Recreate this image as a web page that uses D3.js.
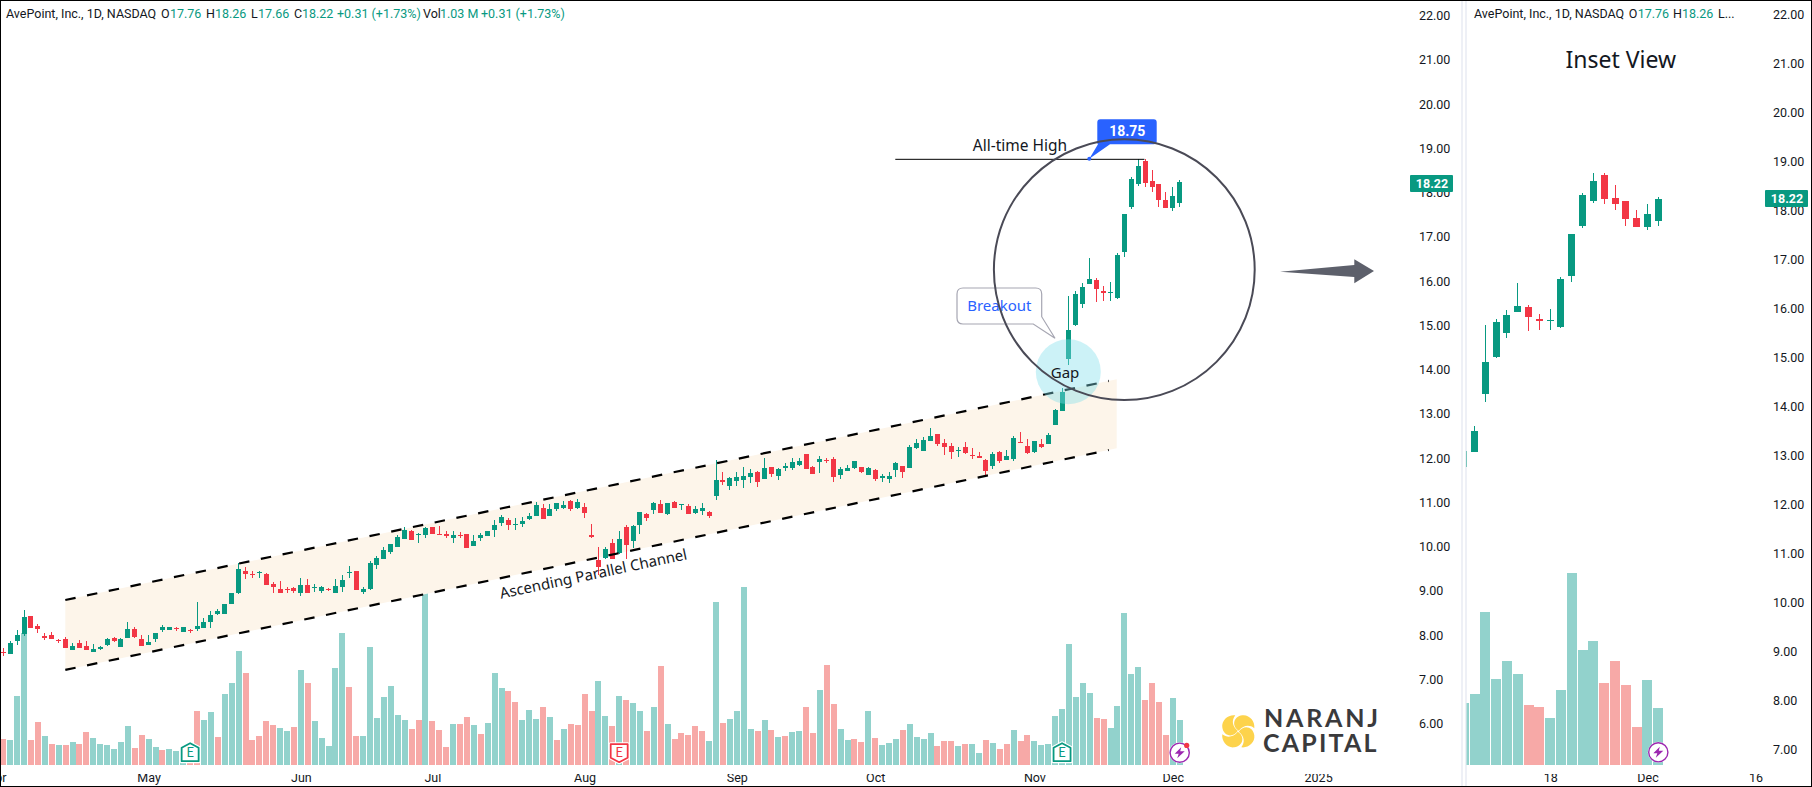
<!DOCTYPE html>
<html>
<head>
<meta charset="utf-8">
<title>AvePoint daily chart</title>
<script src="https://cdn.jsdelivr.net/npm/d3@7"></script>
<style>
  html, body { margin: 0; padding: 0; background: #fff; overflow: hidden; }
  svg { display: block; font-family: Roboto, "Noto Sans", sans-serif; }
  .axis text { fill: #131722; font-size: 12.5px; font-family: Roboto, sans-serif; }
  .axis path, .axis line { display: none; }
</style>
</head>
<body>
<svg id="chart" width="1812" height="787"></svg>
<script>
// AvePoint daily candles. One row = ten sessions.
const opens = [
  7.61,7.56,7.85,8.01,8.42,8.19,7.97,7.99,7.88,7.90,
  7.64,7.80,7.73,7.60,7.68,7.76,7.91,7.72,7.92,8.12,
  7.90,7.76,7.90,8.10,8.11,8.15,8.06,8.11,8.12,8.15,
  8.28,8.46,8.46,8.69,8.94,9.44,9.37,9.38,9.37,9.14,
  9.03,9.03,9.05,8.94,9.12,9.04,8.98,9.03,8.94,9.07,
  9.39,9.44,8.96,9.02,9.57,9.71,9.86,9.98,10.16,10.34,
  10.26,10.25,10.43,10.27,10.26,10.19,10.25,10.27,10.00,10.18,
  10.23,10.36,10.52,10.59,10.48,10.50,10.61,10.68,10.86,10.68,
  10.84,10.86,11.02,10.86,10.88,10.24,9.68,9.73,10.07,9.84,
  10.43,10.11,10.48,10.72,10.81,10.95,10.72,11.00,10.93,10.90,
  10.75,10.79,10.77,11.13,11.49,11.36,11.47,11.49,11.56,11.67,
  11.51,11.79,11.58,11.76,11.76,11.83,12.08,11.79,11.90,11.94,
  11.97,11.61,11.70,11.76,11.79,11.61,11.72,11.53,11.52,11.72,
  11.81,11.76,12.22,12.15,12.37,12.53,12.33,12.26,12.15,12.24,
  12.06,12.03,11.94,11.81,12.13,11.94,11.97,12.35,12.26,12.13,
  12.31,12.31,12.74,13.05,14.23,14.99,15.48,15.91,16.01,15.77,
  15.72,15.60,16.64,17.66,18.17,18.70,18.24,18.17,17.83,17.64,17.76,
];
const highs = [
  7.69,7.85,8.10,8.55,8.42,8.24,8.03,8.05,7.89,7.94,
  7.80,7.88,7.85,7.79,7.75,7.91,7.94,7.91,8.28,8.16,
  7.99,7.99,8.03,8.22,8.18,8.18,8.17,8.13,8.73,8.37,
  8.53,8.57,8.69,8.94,9.61,9.52,9.44,9.44,9.38,9.19,
  9.21,9.07,9.07,9.28,9.25,9.14,9.10,9.06,9.25,9.35,
  9.55,9.44,9.07,9.65,9.77,9.98,10.05,10.25,10.43,10.36,
  10.29,10.43,10.43,10.45,10.34,10.35,10.32,10.27,10.25,10.29,
  10.34,10.59,10.70,10.63,10.63,10.66,10.75,11.00,10.95,10.95,
  10.98,11.02,11.04,11.06,10.97,10.50,9.98,9.98,10.16,10.34,
  10.48,10.48,10.77,10.75,11.00,11.04,10.97,11.02,10.95,10.95,
  10.90,10.97,10.79,11.94,11.67,11.56,11.67,11.79,11.74,11.70,
  11.99,11.79,11.76,11.88,11.99,11.99,12.08,11.81,12.03,11.99,
  12.01,11.79,11.83,11.92,11.79,11.79,11.74,11.63,11.67,11.90,
  11.81,12.28,12.42,12.46,12.67,12.53,12.42,12.33,12.24,12.35,
  12.22,12.13,11.97,12.13,12.15,12.17,12.49,12.58,12.42,12.37,
  12.42,12.55,13.10,13.58,15.64,15.76,15.95,16.50,16.05,15.87,
  15.97,16.62,17.50,18.34,18.75,18.75,18.50,18.17,17.99,18.11,18.26,
];
const lows = [
  7.51,7.56,7.76,7.97,8.15,8.04,7.88,7.90,7.80,7.70,
  7.64,7.70,7.64,7.60,7.64,7.73,7.82,7.72,7.92,7.92,
  7.74,7.76,7.83,8.06,8.10,8.08,8.06,8.04,8.09,8.15,
  8.15,8.43,8.46,8.69,8.92,9.25,9.28,9.28,9.12,8.94,
  8.94,8.94,8.94,8.88,8.94,8.96,8.94,8.98,8.94,8.96,
  9.28,9.01,8.92,9.01,9.48,9.71,9.82,9.98,10.16,10.14,
  10.07,10.18,10.27,10.25,10.18,10.07,10.17,9.96,10.00,10.11,
  10.23,10.20,10.45,10.36,10.36,10.43,10.59,10.68,10.61,10.68,
  10.79,10.84,10.79,10.84,10.63,10.18,9.35,9.71,9.71,9.82,
  9.71,9.96,10.27,10.57,10.72,10.75,10.70,10.86,10.81,10.72,
  10.72,10.70,10.63,11.04,11.38,11.27,11.36,11.31,11.42,11.33,
  11.51,11.56,11.49,11.70,11.72,11.81,11.74,11.63,11.65,11.88,
  11.45,11.51,11.70,11.74,11.65,11.61,11.47,11.45,11.42,11.56,
  11.54,11.76,12.19,12.15,12.37,12.26,12.06,11.97,12.01,12.08,
  11.97,11.99,11.61,11.74,11.88,11.94,11.92,12.33,12.08,12.10,
  12.22,12.31,12.74,13.05,14.08,14.97,15.38,15.91,15.52,15.54,
  15.54,15.58,16.52,17.62,18.13,18.11,17.99,17.66,17.64,17.58,17.66,
];
const closes = [
  7.60,7.80,8.00,8.39,8.15,8.13,7.93,7.90,7.85,7.70,
  7.73,7.70,7.65,7.67,7.72,7.90,7.85,7.90,8.12,7.94,
  7.74,7.83,8.03,8.18,8.17,8.12,8.16,8.08,8.19,8.28,
  8.44,8.53,8.69,8.93,9.48,9.37,9.34,9.41,9.12,9.07,
  8.94,9.00,8.98,9.12,8.94,9.07,9.07,9.01,9.10,9.23,
  9.41,9.01,9.03,9.62,9.73,9.91,10.05,10.20,10.36,10.14,
  10.27,10.40,10.27,10.25,10.23,10.25,10.23,9.96,10.11,10.25,
  10.34,10.48,10.66,10.48,10.50,10.57,10.68,10.93,10.61,10.84,
  10.97,10.93,10.84,11.00,10.75,10.21,9.53,9.93,9.71,10.16,
  10.02,10.45,10.77,10.63,10.97,10.75,10.97,10.86,10.95,10.72,
  10.84,10.86,10.68,11.49,11.45,11.54,11.56,11.58,11.65,11.45,
  11.76,11.63,11.74,11.81,11.90,11.92,11.74,11.63,11.97,11.92,
  11.56,11.74,11.76,11.92,11.67,11.76,11.51,11.58,11.58,11.88,
  11.67,12.24,12.33,12.40,12.49,12.31,12.24,12.13,12.18,12.10,
  12.03,12.00,11.70,12.08,11.92,12.03,12.44,12.33,12.10,12.37,
  12.24,12.51,13.07,13.48,14.89,15.70,15.85,16.03,15.80,15.72,
  15.74,16.58,17.50,18.30,18.58,18.21,18.11,17.81,17.64,17.91,18.22,
];
// Volume in millions; 1.03 M is the last bar.
const volumes = [
  .60,.57,1.58,3.02,.57,.98,.66,.48,.46,.46,
  .53,.48,.76,.62,.48,.46,.37,.53,.89,.39,
  .69,.60,.41,.34,.37,.32,.31,.31,1.24,1.03,
  1.21,.64,1.63,1.88,2.61,2.11,.57,.66,1.01,.92,
  .85,.78,.87,2.18,1.88,1.01,.62,.44,2.22,3.02,
  1.79,.66,.66,2.70,1.08,1.56,1.81,1.15,1.03,.82,
  1.03,4.40,1.01,.80,.41,.94,.94,1.10,.92,.71,
  .96,2.11,1.76,1.69,1.44,1.03,1.26,1.05,1.33,1.10,
  .57,.82,.94,.92,1.63,1.24,1.92,1.12,.89,1.58,
  1.49,1.42,1.24,.78,1.33,2.27,.94,.60,.73,.69,
  .89,.78,.55,3.73,.96,1.05,1.24,4.08,.82,.78,
  1.03,.80,.64,.66,.76,.78,1.33,.73,1.72,2.29,
  1.40,.82,.57,.60,.53,1.24,.62,.46,.50,.60,
  .80,.94,.64,.60,.73,.44,.55,.55,.44,.48,
  .48,.27,.57,.50,.37,.48,.80,.55,.69,.55,
  .46,.48,1.12,1.28,2.77,1.56,1.88,1.65,1.08,1.05,
  .85,1.35,3.48,2.08,2.24,1.49,1.88,1.44,.69,1.53,1.03,
];
// t = teal bar, p = pink bar (does not always follow the candle).
const volumeSides = (
  "ptttpptptp" + "tppttttttp" + "pttptttppt" + "tptttppppp" + "ttptpttttt" +
  "pptttttttp" + "ptppptpptp" + "tttpptttpt" + "ptppppttpt" + "pttptptppp" +
  "ppttpttttp" + "tptpttpptp" + "pttpptpttt" + "pttttppptp" + "ttptpptppt" +
  "ttttttttpp" + "tttttpppptt"
);

const mainPriceTicks = d3.range(6, 23);
const insetPriceTicks = d3.range(7, 23);
const mainTimeTicks = [-1, 21, 43, 62, 84, 106, 126, 149, 169, 190];
const mainTimeLabels = ["Apr", "May", "Jun", "Jul", "Aug", "Sep", "Oct", "Nov", "Dec", "2025"];
const insetTimeTicks = [160, 169, 179];
const insetTimeLabels = ["18", "Dec", "16"];
const earnings = [[27, "up"], [89, "down"], [153, "up"]];

// Trend-line anchors as [session, price].
const channelUpper = [[8.96, 8.78], [159.75, 13.73]];
const channelLower = [[8.96, 7.20], [159.75, 12.17]];
const channelFillEnd = 160.9;
const allTimeHigh = { price: 18.75, from: 128.9, to: 164.9 };

const GREEN = "#089981", RED = "#f23645", TEAL_VOL = "#92d2cc", PINK_VOL = "#f7a9a7";
const BLUE = "#2962ff", INK = "#131722", CIRCLE = "#4a4a56";

const svg = d3.select("#chart");
const defs = svg.append("defs");
const n = opens.length;

// ---------------------------------------------------------------------------
// Scales: one set per pane.
// ---------------------------------------------------------------------------
const main = {
  id: "main",
  x: d3.scaleLinear().domain([0, 170]).range([3.3, 1179.7]),
  y: d3.scaleLinear().domain([6, 22]).range([723, 15]),
  vol: d3.scaleLinear().domain([0, 1]).range([765, 721.3]),
  clip: [1, 1, 1459, 785],
  bodyW: 5, barW: 6, first: 0,
  axisX: 1419, timeY: 773,
  priceTicks: mainPriceTicks, timeTicks: mainTimeTicks, timeLabels: mainTimeLabels,
};
const inset = {
  id: "inset",
  x: d3.scaleLinear().domain([153, 170]).range([1474.5, 1658.3]),
  y: d3.scaleLinear().domain([7, 22]).range([748.5, 13.5]),
  vol: d3.scaleLinear().domain([0, 1]).range([765, 709.7]),
  clip: [1466.5, 1, 340, 785],
  bodyW: 7, barW: 10, first: 150,
  axisX: 1773, timeY: 773,
  priceTicks: insetPriceTicks, timeTicks: insetTimeTicks, timeLabels: insetTimeLabels,
};

[main, inset].forEach(p => {
  defs.append("clipPath").attr("id", `clip-${p.id}`).append("rect")
    .attr("x", p.clip[0]).attr("y", p.clip[1]).attr("width", p.clip[2]).attr("height", p.clip[3]);
});

// Pane separator.
[1461, 1465].forEach(x => {
  svg.append("rect").attr("x", x).attr("y", 0).attr("width", 2).attr("height", 787).attr("fill", "#eef0f6");
});

function drawBars(p) {
  const g = svg.append("g").attr("clip-path", `url(#clip-${p.id})`);
  const idx = d3.range(p.first, n);
  g.selectAll("rect").data(idx).join("rect")
    .attr("x", i => Math.round(p.x(i) - p.barW / 2))
    .attr("y", i => p.vol(volumes[i]))
    .attr("width", p.barW)
    .attr("height", i => p.vol(0) - p.vol(volumes[i]))
    .attr("fill", i => volumeSides[i] === "t" ? TEAL_VOL : PINK_VOL)
    .attr("shape-rendering", "crispEdges");
}

function drawCandles(p) {
  const g = svg.append("g").attr("clip-path", `url(#clip-${p.id})`).attr("shape-rendering", "crispEdges");
  const idx = d3.range(p.first, n);
  const col = i => closes[i] >= opens[i] ? GREEN : RED;
  g.selectAll("rect.wick").data(idx).join("rect").attr("class", "wick")
    .attr("x", i => Math.floor(p.x(i)))
    .attr("y", i => p.y(highs[i]))
    .attr("width", 1)
    .attr("height", i => p.y(lows[i]) - p.y(highs[i]))
    .attr("fill", col);
  g.selectAll("rect.body").data(idx).join("rect").attr("class", "body")
    .attr("x", i => Math.floor(p.x(i)) - (p.bodyW - 1) / 2)
    .attr("y", i => p.y(Math.max(opens[i], closes[i])))
    .attr("width", p.bodyW)
    .attr("height", i => Math.max(1, Math.abs(p.y(opens[i]) - p.y(closes[i]))))
    .attr("fill", col);
}

function drawAxes(p) {
  const yAxis = d3.axisRight(p.y).tickValues(p.priceTicks).tickSize(0).tickPadding(0)
    .tickFormat(d3.format(".2f"));
  svg.append("g").attr("class", "axis").attr("transform", `translate(${p.axisX},0.5)`).call(yAxis);
  const xAxis = d3.axisBottom(p.x).tickValues(p.timeTicks).tickSize(0).tickPadding(0)
    .tickFormat((d, i) => p.timeLabels[i]);
  svg.append("g").attr("class", "axis").attr("transform", `translate(0,${p.timeY})`)
    .attr("clip-path", `url(#clip-${p.id})`).call(xAxis);
}

function priceTag(x, w, y, text) {
  svg.append("rect").attr("x", x).attr("y", y - 8.5).attr("width", w).attr("height", 17)
    .attr("rx", 1).attr("fill", GREEN);
  svg.append("text").attr("x", x + w / 2 + 0.5).attr("y", y + 4.5).attr("text-anchor", "middle")
    .attr("fill", "#fff").attr("font-size", 12.5).attr("font-weight", 700).text(text);
}

// Header line made of runs: [x, text, colour].
function headerLine(runs) {
  const g = svg.append("g").attr("font-size", 12.5);
  runs.forEach(([x, t, c]) => {
    g.append("text").attr("x", x).attr("y", 17.5).attr("fill", c).text(t);
  });
}

function earningsIcon(x, y, dir) {
  const c = dir === "up" ? GREEN : RED;
  const g = svg.append("g").attr("transform", `translate(${x},${y})`);
  const pts = dir === "up"
    ? "M0,-9.5 L8.5,-5 L8.5,8.5 L-8.5,8.5 L-8.5,-5 Z"
    : "M-8.5,-8.5 L8.5,-8.5 L8.5,5 L0,9.5 L-8.5,5 Z";
  g.append("path").attr("d", pts).attr("fill", "#fff").attr("stroke", "#fff").attr("stroke-width", 4).attr("stroke-linejoin", "round");
  g.append("path").attr("d", pts).attr("fill", "#fff").attr("stroke", c).attr("stroke-width", 1.8).attr("stroke-linejoin", "round");
  g.append("text").attr("y", 4.5).attr("text-anchor", "middle").attr("fill", c)
    .attr("font-size", 13).attr("font-family", "Lato, sans-serif").text("E");
}

function boltIcon(x, y, withDot) {
  const g = svg.append("g").attr("transform", `translate(${x},${y})`);
  g.append("circle").attr("r", 10.5).attr("fill", "#fff");
  g.append("circle").attr("r", 9.6).attr("fill", "#fff").attr("stroke", "#9c27b0").attr("stroke-width", 1.4);
  g.append("path").attr("d", "M1.5,-5.5 L-5,1 L-1,1 L-2.5,5.5 L5,-1.5 L0.5,-1.5 Z").attr("fill", "#9c27b0");
  if (withDot) g.append("circle").attr("cx", 7).attr("cy", -7.3).attr("r", 2.6).attr("fill", RED);
}

// ---------------------------------------------------------------------------
// Main pane
// ---------------------------------------------------------------------------
drawBars(main);

const upperAt = s => channelUpper[0][1] + (s - channelUpper[0][0]) * (channelUpper[1][1] - channelUpper[0][1]) / (channelUpper[1][0] - channelUpper[0][0]);
const lowerAt = s => channelLower[0][1] + (s - channelLower[0][0]) * (channelLower[1][1] - channelLower[0][1]) / (channelLower[1][0] - channelLower[0][0]);
const s0 = channelUpper[0][0];
svg.append("polygon")
  .attr("points", [[s0, upperAt(s0)], [channelFillEnd, upperAt(channelFillEnd)], [channelFillEnd, lowerAt(channelFillEnd)], [s0, lowerAt(s0)]]
    .map(d => [main.x(d[0]), main.y(d[1])].join(",")).join(" "))
  .attr("fill", "#fdf5ea");

drawCandles(main);

const trend = d3.line().x(d => main.x(d[0])).y(d => main.y(d[1]));
[channelUpper, channelLower].forEach(c => {
  svg.append("path").attr("d", trend(c)).attr("fill", "none").attr("stroke", "#000")
    .attr("stroke-width", 2.2).attr("stroke-dasharray", "10.5 11.7");
});
svg.append("text")
  .attr("transform", `translate(594.5,579) rotate(-12)`)
  .attr("text-anchor", "middle").attr("font-size", 15).attr("font-family", "'Noto Sans', sans-serif")
  .attr("fill", INK).text("Ascending Parallel Channel");

drawAxes(main);

earnings.forEach(([i, dir]) => earningsIcon(main.x(i), 752.7, dir));
boltIcon(main.x(170), 752.7, true);

headerLine([
  [6, "AvePoint, Inc., 1D, NASDAQ", INK],
  [161, "O", INK], [170, "17.76", GREEN],
  [206, "H", INK], [215, "18.26", GREEN],
  [251, "L", INK], [258, "17.66", GREEN],
  [294, "C", INK], [302, "18.22", GREEN],
  [337, "+0.31 (+1.73%)", GREEN],
  [423, "Vol", INK], [440, "1.03 M", GREEN],
  [481, "+0.31 (+1.73%)", GREEN],
]);
priceTag(1410, 43, 183.5, "18.22");

// Gap marker + breakout callout sit under the big circle.
svg.append("circle").attr("cx", 1068.3).attr("cy", 371.7).attr("r", 32.5)
  .attr("fill", "#80deea").attr("fill-opacity", 0.4);
svg.append("text").attr("x", 1065).attr("y", 378).attr("text-anchor", "middle")
  .attr("font-size", 15).attr("font-family", "'Noto Sans', sans-serif").attr("fill", INK).text("Gap");

svg.append("path")
  .attr("d", "M963,288 H1035.7 Q1041.7,288 1041.7,294 V316.7 L1055,338.3 L1033.3,324 H963 Q957,324 957,318 V294 Q957,288 963,288 Z")
  .attr("fill", "#fff").attr("fill-opacity", 0.6).attr("stroke", "#a6a6b2").attr("stroke-width", 1.2);
svg.append("text").attr("x", 999.3).attr("y", 311).attr("text-anchor", "middle")
  .attr("font-size", 15).attr("font-family", "'Noto Sans', sans-serif").attr("fill", BLUE).text("Breakout");

// All-time-high line and its price note.
const athY = main.y(allTimeHigh.price);
svg.append("line").attr("x1", main.x(allTimeHigh.from)).attr("x2", main.x(allTimeHigh.to))
  .attr("y1", athY + 0.5).attr("y2", athY + 0.5).attr("stroke", "#000").attr("stroke-width", 1);
svg.append("text").attr("x", 1020).attr("y", 151).attr("text-anchor", "middle")
  .attr("font-size", 15.5).attr("font-family", "'Noto Sans', sans-serif").attr("fill", INK).text("All-time High");
svg.append("path")
  .attr("d", `M1100.3,119.3 H1153.7 Q1156.7,119.3 1156.7,122.3 V141.3 Q1156.7,144.3 1153.7,144.3 H1110 L1089.3,${athY} L1098,144.3 Q1097.3,144.3 1097.3,141.3 V122.3 Q1097.3,119.3 1100.3,119.3 Z`)
  .attr("fill", BLUE);
svg.append("circle").attr("cx", 1089.3).attr("cy", athY).attr("r", 2).attr("fill", BLUE);
svg.append("text").attr("x", 1127.3).attr("y", 136).attr("text-anchor", "middle")
  .attr("font-size", 14).attr("font-weight", 700).attr("fill", "#fff").text(allTimeHigh.price.toFixed(2));

svg.append("circle").attr("cx", 1124.3).attr("cy", 269.7).attr("r", 130.4)
  .attr("fill", "none").attr("stroke", CIRCLE).attr("stroke-width", 2);

// Arrow pointing at the inset.
svg.append("path").attr("d", "M1280,271.7 L1354.3,265 L1354.3,259.3 L1374,271 L1354.3,283.3 L1354.3,277 Z")
  .attr("fill", "#5d606b");

// Logo: a pinwheel of four petals and the two-line name.
const logo = svg.append("g").attr("transform", "translate(1238.3,731.3)");
[0, 90, 180, 270].forEach(a => {
  logo.append("path").attr("transform", `rotate(${a})`)
    .attr("d", "M0.5,-0.5 C-7,-5 -5,-15 4,-16 C11,-17 17,-10 16,-3 C11,-7 5,-6 0.5,-0.5 Z")
    .attr("fill", "#fdd34c");
});
[["NARANJ", 1264, 727], ["CAPITAL", 1263, 752]].forEach(([t, x, y]) => {
  svg.append("text").attr("x", x).attr("y", y).attr("fill", "#3a3a3c")
    .attr("font-family", "Lato, sans-serif").attr("font-weight", 700).attr("font-size", 25)
    .attr("letter-spacing", t === "NARANJ" ? 2.8 : 2.2).text(t);
});

// ---------------------------------------------------------------------------
// Inset pane
// ---------------------------------------------------------------------------
drawBars(inset);
drawCandles(inset);
drawAxes(inset);
boltIcon(inset.x(170), 752.3, false);
headerLine([
  [1474, "AvePoint, Inc., 1D, NASDAQ", INK],
  [1628.7, "O", INK], [1637.7, "17.76", GREEN],
  [1673, "H", INK], [1682, "18.26", GREEN],
  [1718, "L...", INK],
]);
priceTag(1765, 43, 198.5, "18.22");
svg.append("text").attr("x", 1620.7).attr("y", 68).attr("text-anchor", "middle")
  .attr("font-size", 23).attr("font-family", "'Noto Sans', sans-serif").attr("fill", INK).text("Inset View");

// Outer frame.
svg.append("rect").attr("x", 0.5).attr("y", 0.5).attr("width", 1811).attr("height", 786)
  .attr("fill", "none").attr("stroke", "#000").attr("stroke-width", 1);
</script>
</body>
</html>
